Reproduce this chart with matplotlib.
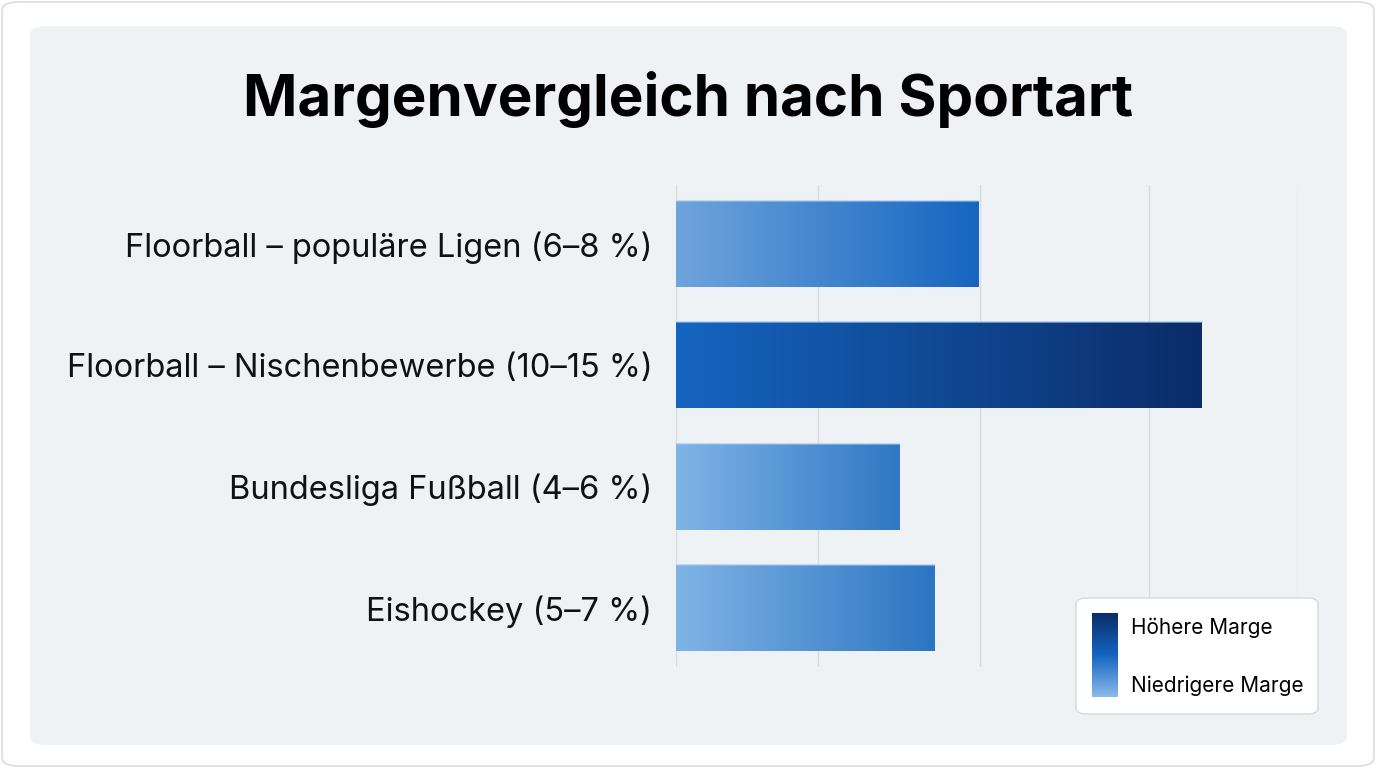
import numpy as np
import matplotlib
matplotlib.use("Agg")
import matplotlib.pyplot as plt
from matplotlib.patches import FancyBboxPatch
from matplotlib.colors import LinearSegmentedColormap

plt.rcParams['font.family'] = ['Inter', 'DejaVu Sans']

# data
categories = [
    "Floorball – populäre Ligen (6–8 %)",
    "Floorball – Nischenbewerbe (10–15 %)",
    "Bundesliga Fußball (4–6 %)",
    "Eishockey (5–7 %)",
]
margins = [6.9, 12.0, 5.1, 5.9]
grid_values = [0, 3.25, 6.95, 10.8, 14.2]
legend_labels = ["Höhere Marge", "Niedrigere Marge"]
title = "Margenvergleich nach Sportart"

# gradient colours (left -> right) for each bar
grad_left = ['#6fa4dc', '#1565c0', '#80b4e6', '#80b4e6']
grad_right = ['#1565c0', '#0b2c68', '#2f78c4', '#2c75c2']

W, H = 1376, 768
fig = plt.figure(figsize=(W / 100, H / 100), dpi=100)
fig.patch.set_facecolor('white')

# outer border + inner panel
fig.patches.append(FancyBboxPatch((2 / W, 2 / H), 1 - 4 / W, 1 - 4 / H,
                                  boxstyle="round,pad=0,rounding_size=0.012",
                                  transform=fig.transFigure, facecolor='white',
                                  edgecolor='#d9dde2', linewidth=1.2, zorder=-2))
fig.patches.append(FancyBboxPatch((30 / W, (H - 745) / H), 1317 / W, 719 / H,
                                  boxstyle="round,pad=0,rounding_size=0.012",
                                  transform=fig.transFigure, facecolor='#eef2f5',
                                  edgecolor='none', zorder=-1))

fig.text(688 / W, 1 - 100 / H, title, ha='center', va='center',
         fontsize=42, fontweight='bold', color='black')

ax = fig.add_axes([676 / W, (H - 667) / H, (1298 - 676) / W, (667 - 185) / H])
ax.set_facecolor('none')
for s in ax.spines.values():
    s.set_visible(False)

y = np.arange(len(categories))
bars = ax.barh(y, margins, height=0.71, color='none', edgecolor='none', zorder=3)

grad = np.linspace(0, 1, 256).reshape(1, -1)
for bar, c0, c1 in zip(bars, grad_left, grad_right):
    cmap = LinearSegmentedColormap.from_list('g', [c0, c1])
    x0, y0 = bar.get_x(), bar.get_y()
    w, h = bar.get_width(), bar.get_height()
    im = ax.imshow(grad, cmap=cmap, aspect='auto', extent=[x0, x0 + w, y0 + h, y0],
                   zorder=2, interpolation='bicubic')
    im.set_clip_path(bar)
    ax.plot([x0, x0 + w], [y0, y0], color='#9cc6ee', lw=1.2, zorder=4, alpha=0.7)

for g in grid_values:
    ax.axvline(g, color='#d8dce1', lw=1.0, zorder=1)

ax.set_xlim(0, 14.2)
ax.set_ylim(3.487, -0.486)
ax.set_xticks([])
ax.set_yticks(y)
ax.set_yticklabels(categories, fontsize=23.5, color='#111111')
ax.tick_params(axis='y', length=0, pad=17)

# legend box
fig.patches.append(FancyBboxPatch((1076 / W, (H - 714) / H), 242 / W, 116 / H,
                                  boxstyle="round,pad=0,rounding_size=0.008",
                                  transform=fig.transFigure, facecolor='white',
                                  edgecolor='#d6dadf', linewidth=1.0, zorder=5))
lax = fig.add_axes([1092 / W, (H - 697) / H, 26 / W, 84 / H], zorder=6)
lcmap = LinearSegmentedColormap.from_list('leg', ['#0b2c68', '#1565c0', '#8abaea'])
lax.imshow(np.linspace(0, 1, 256).reshape(-1, 1), cmap=lcmap, aspect='auto')
lax.axis('off')
fig.text(1131 / W, 1 - 628 / H, legend_labels[0], fontsize=15, va='center', zorder=7)
fig.text(1131 / W, 1 - 686 / H, legend_labels[1], fontsize=15, va='center', zorder=7)

fig.savefig('out.png', dpi=100)
